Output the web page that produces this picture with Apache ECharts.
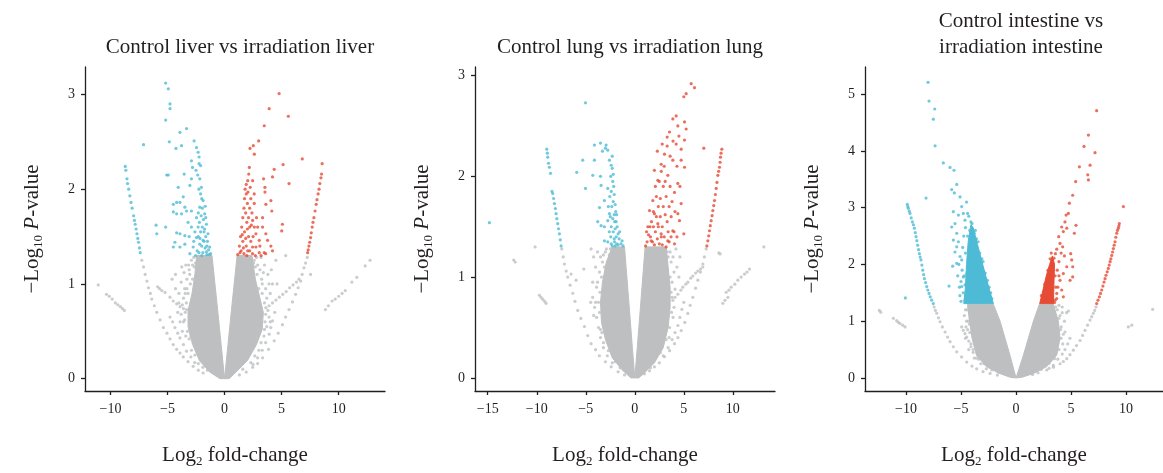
<!DOCTYPE html>
<html>
<head>
<meta charset="utf-8">
<script src="https://cdn.jsdelivr.net/npm/echarts@6/dist/echarts.min.js"></script>
<style>html,body{margin:0;padding:0;background:#fff}#c{width:1163px;height:473px}</style>
</head>
<body>
<div id="c"></div>
<script>
// ---------- DATA ----------
const titles = ['Control liver vs irradiation liver', 'Control lung vs irradiation lung', 'Control intestine vs\nirradiation intestine'];
const xTicksLiver = [-10, -5, 0, 5, 10];
const xTicksLung = [-15, -10, -5, 0, 5, 10];
const xTicksIntestine = [-10, -5, 0, 5, 10];
const yTicksLiver = [0, 1, 2, 3];
const yTicksLung = [0, 1, 2, 3];
const yTicksIntestine = [0, 1, 2, 3, 4, 5];

// dense, non-significant cores (outline of the packed grey area)
const liverCoreLeft = [[0,0],[-0.3,0.36],[-0.6,0.72],[-1.1,1.3],[-2.45,1.3],[-2.6,1.1],[-2.85,0.9],[-3.2,0.72],[-3.2,0.55],[-2.8,0.36],[-2.2,0.19],[-1.3,0.07],[-0.4,0.0]];
const liverCoreRight = [[0,0],[0.3,0.36],[0.6,0.72],[1.1,1.3],[2.4,1.3],[2.7,1.05],[3.1,0.85],[3.4,0.7],[3.3,0.52],[2.8,0.36],[2.0,0.19],[1.0,0.07],[0.4,0]];
const liverGray = [[-7.25,1.25],[-7.1,1.18],[-6.96,1.10],[-6.8,1.03],[-6.67,0.96],[-6.5,0.9],[-6.38,0.84],[-6.15,0.77],[-5.94,0.70],[-5.65,0.62],[-5.36,0.54],[-5.05,0.48],[-4.78,0.42],[-4.5,0.36],[-4.2,0.31],[-3.9,0.27],[-3.62,0.23],[-3.2,0.18],[-2.75,0.13],[-2.3,0.09],[-1.88,0.06],
[-4.78,0.65],[-4.55,0.6],[-4.35,0.54],[-4.1,0.48],[-3.91,0.43],[-3.6,0.36],[-3.33,0.29],[-2.95,0.23],[-2.61,0.17],
[-5.86,0.97],[-5.7,0.95],[-5.5,0.93],[-5.22,0.91],[-4.78,0.86],[-4.5,0.82],[-4.2,0.79],[-3.9,0.76],[-3.6,0.74],[-3.33,0.73],
[-11.07,0.99],[-10.35,0.89],[-10.1,0.87],[-9.85,0.84],[-9.57,0.80],[-9.35,0.78],[-9.13,0.76],[-8.95,0.74],[-8.78,0.72],
[7.25,1.28],[7.1,1.22],[6.96,1.17],[6.8,1.1],[6.67,1.03],[6.45,0.96],[6.23,0.89],[5.95,0.81],[5.65,0.73],[5.35,0.65],[5.07,0.57],[4.7,0.48],[4.35,0.40],[3.85,0.31],[3.33,0.22],[2.9,0.16],[2.46,0.12],[1.9,0.07],[1.3,0.04],
[4.2,0.61],[4.05,0.54],[3.91,0.47],[3.6,0.38],[3.3,0.3],[2.9,0.22],[2.5,0.15],
[3.62,0.75],[3.9,0.77],[4.2,0.8],[4.5,0.83],[4.8,0.86],[5.1,0.89],[5.4,0.92],[5.7,0.96],[6.0,0.99],[6.3,1.02],[6.52,1.05],
[12.75,1.25],[12.32,1.19],[11.59,1.07],[11.16,1.02],[10.58,0.93],[10.3,0.9],[10.0,0.87],[9.7,0.84],[9.42,0.82],[9.1,0.77],[8.84,0.73],[7.54,1.10],[5.36,1.30],[4.2,1.0],
[-2.9,1.25],[-3.1,1.15],[-3.4,1.2],[-4.3,1.1],[-4.6,1.05],[-3.8,1.02],[-3.5,0.95],[-4.0,0.9],[-3.3,1.05],[-2.8,1.2],[-3.6,0.85],[-3.9,0.6],[-3.7,0.5],[-3.4,0.45],[-4.1,0.7],[-2.7,1.28],[-3.0,1.0],[-3.2,0.9],
[2.6,1.25],[2.9,1.2],[3.1,1.15],[3.5,1.2],[3.8,1.1],[4.1,1.15],[4.5,1.25],[3.3,1.0],[3.6,0.95],[4.0,0.9],[3.9,0.65],[3.7,0.55],[4.4,0.7],[4.6,1.0],[2.8,1.28],[3.2,1.28],
[-3.35,0.8],[-3.45,0.7],[-3.5,0.62],[-3.3,0.95],[-3.05,1.1],[-2.8,1.05],[-2.65,1.18],[-3.25,0.5],[-3.1,0.42],[-2.9,0.3],[-2.6,0.25],[-2.3,0.16],[-1.9,0.12],[-1.5,0.09],[-3.7,0.78],[-3.8,0.68],[-4.0,0.8],[-4.3,0.95],[-3.55,1.12],[-3.75,1.18],[-2.55,1.22],[-3.0,0.58],[-2.95,0.45],[-3.45,0.9],[-3.15,1.2],[-3.6,0.6],
[3.5,0.8],[3.55,0.6],[3.45,0.45],[3.2,0.38],[3.0,0.3],[2.65,0.24],[2.3,0.17],[1.6,0.1],[2.85,1.1],[3.0,0.95],[2.7,1.18],[3.25,1.05],[3.7,0.85],[3.8,0.72],[4.0,0.6],[3.3,0.9],[3.4,1.12],[2.55,1.22],[3.6,0.68],[3.15,0.65],[3.5,0.52],[3.9,1.0]];
const liverDown = [[-5.16,3.12],[-4.93,3.06],[-4.78,2.9],[-4.78,2.85],[-5.16,2.73],[-4.84,2.5],[-7.1,2.47],[-3.91,2.6],[-3.33,2.64],[-3.77,2.46],[-4.26,2.43],[-2.67,2.51],[-2.46,2.44],[-2.32,2.39],[-2.23,2.34],[-2.23,2.27],
[-8.7,2.24],[-8.65,2.2],[-8.55,2.11],[-8.5,2.06],[-8.4,2.0],[-8.3,1.93],[-8.2,1.86],[-8.1,1.8],[-7.97,1.72],[-7.9,1.67],[-7.83,1.63],[-7.75,1.58],[-7.68,1.53],[-7.6,1.48],[-7.54,1.44],[-7.46,1.38],[-7.39,1.33],
[-6.0,1.62],[-5.94,1.53],[-5.16,1.6],[-5.07,2.15],[-4.93,2.15],[-4.06,2.02],[-3.54,2.16],[-3.04,2.04],[-2.9,2.11],[-2.81,2.23],[-2.9,2.3],[-2.17,2.11],[-2.03,2.02],[-4.49,1.84],[-4.2,1.86],[-3.91,1.86],[-3.62,1.92],[-3.48,1.81],[-4.49,1.76],[-4.2,1.74],[-3.77,1.74],[-3.33,1.77],[-2.9,1.77],[-4.2,1.54],[-3.91,1.53],[-3.48,1.51],[-4.35,1.44],[-3.48,1.42],[-4.49,1.39],[-3.91,1.39],[-3.04,1.32],[-2.75,1.39],[-2.46,1.49],[-2.32,1.6],[-2.46,1.7],[-2.17,1.81],[-1.88,1.88],[-1.74,1.74],[-1.59,1.63],[-1.45,1.53],[-1.3,1.39],[-1.22,1.32],[-1.88,1.46],[-2.17,1.42],[-1.59,1.34],
[-2.1,1.95],[-2.0,1.9],[-1.95,1.8],[-2.05,1.72],[-1.85,1.68],[-1.95,1.6],[-2.1,1.55],[-1.75,1.58],[-1.65,1.5],[-1.8,1.45],[-2.0,1.4],[-1.5,1.45],[-1.4,1.36],[-1.7,1.38],[-1.9,1.33],[-2.25,1.33],[-2.0,1.3],[-1.55,1.31],[-1.35,1.31],[-2.3,1.5],[-2.2,1.65],[-2.3,1.75],[-2.4,1.35],[-1.7,1.82],[-2.25,2.0],[-2.35,2.15],[-2.5,2.2],[-2.1,2.25],[-1.65,1.7],[-1.8,1.55],[-1.55,1.4],[-2.15,1.48],[-2.6,1.55],[-2.7,1.45],[-2.55,1.3],[-2.9,1.6],[-3.1,1.5],[-3.2,1.65]];
const liverUp = [[4.78,3.01],[3.91,2.85],[5.59,2.77],[3.48,2.67],[2.99,2.51],[2.52,2.46],[2.61,2.37],[2.23,2.43],[6.81,2.32],[5.13,2.26],[4.35,2.21],[5.65,2.06],[4.2,2.13],[3.54,2.02],[3.42,2.11],[2.17,2.23],[2.12,2.16],[2.03,2.09],[2.46,2.09],
[8.55,2.27],[8.5,2.16],[8.45,2.12],[8.35,2.06],[8.28,2.0],[8.2,1.95],[8.1,1.89],[8.03,1.84],[7.93,1.77],[7.83,1.7],[7.75,1.65],[7.68,1.6],[7.6,1.54],[7.54,1.49],[7.46,1.44],[7.39,1.4],[7.33,1.36],[7.28,1.33],
[3.54,1.97],[3.62,1.84],[4.06,1.88],[4.14,1.77],[5.07,1.63],[5.01,1.56],[3.33,1.7],[3.33,1.6],[3.62,1.53],[3.77,1.46],[4.06,1.4],[4.2,1.35],[3.48,1.33],[2.46,1.67],[2.61,1.6],[2.75,1.53],[3.04,1.46],[2.46,1.39],[2.75,1.39],[3.04,1.33],[2.03,1.35],
[1.15,1.31],[1.3,1.4],[1.4,1.5],[1.5,1.6],[1.6,1.7],[1.7,1.8],[1.75,1.9],[1.8,2.0],[1.9,1.95],[2.0,1.85],[1.85,1.75],[1.95,1.65],[1.75,1.55],[1.6,1.45],[1.45,1.35],[1.7,1.32],[1.9,1.4],[2.1,1.5],[2.2,1.6],[2.1,1.7],[2.2,1.8],[2.3,1.9],[2.4,1.75],[2.3,1.45],[2.2,1.35],[1.95,1.3],[2.5,1.5],[2.6,1.85],[1.65,1.38],[2.0,1.58],[1.85,1.48],[2.35,1.62],[2.6,1.95],[2.8,1.7],[2.9,1.6],[3.1,1.4],[1.55,1.52],[1.35,1.33],[2.45,1.32],[2.7,1.3],[3.2,1.3],[3.6,1.32],[2.05,1.97],[2.25,2.02],[1.9,2.05]];

const lungCoreLeft = [[0,0],[-0.25,0.3],[-0.54,0.67],[-1.05,1.3],[-2.3,1.3],[-2.9,1.15],[-3.3,0.95],[-3.5,0.75],[-3.4,0.55],[-3.0,0.38],[-2.3,0.2],[-1.3,0.08],[-0.4,0.0]];
const lungCoreRight = [[0,0],[0.25,0.3],[0.55,0.67],[1.05,1.3],[3.2,1.3],[3.4,1.1],[3.6,0.9],[3.6,0.7],[3.4,0.5],[2.9,0.3],[2.0,0.15],[1.0,0.05],[0.4,0]];
const lungGray = [[-7.45,1.28],[-7.3,1.2],[-7.18,1.13],[-7.0,1.06],[-6.84,1.0],[-6.6,0.92],[-6.33,0.84],[-6.1,0.76],[-5.82,0.67],[-5.5,0.59],[-5.14,0.51],[-4.8,0.42],[-4.46,0.34],[-4.0,0.28],[-3.61,0.22],[-3.0,0.16],[-2.41,0.11],[-1.7,0.06],[-1.05,0.03],
[-4.3,0.8],[-4.1,0.7],[-3.9,0.6],[-3.7,0.5],[-3.5,0.4],[-3.2,0.3],[-2.8,0.22],[-2.3,0.15],
[-10.17,1.3],[-12.35,1.17],[-12.2,1.15],[-9.73,0.82],[-9.56,0.8],[-9.39,0.78],[-9.2,0.76],[-9.05,0.74],
[-4.46,1.28],[-5.2,1.08],[-6.5,1.03],[-5.99,0.97],[-4.2,1.2],[-4.0,1.1],[-3.8,1.25],[-3.5,1.2],[-4.3,0.95],[-3.9,0.9],[-4.5,0.75],[-4.2,0.62],[-2.9,1.28],[-3.2,1.22],[-3.6,1.05],
[7.28,1.28],[7.1,1.2],[6.94,1.13],[6.7,1.05],[6.43,0.97],[6.2,0.89],[5.92,0.8],[5.65,0.72],[5.41,0.64],[5.1,0.55],[4.73,0.47],[4.4,0.4],[4.05,0.34],[3.55,0.27],[3.03,0.21],[2.5,0.15],[2.0,0.11],[1.5,0.07],[0.99,0.04],
[5.0,0.75],[4.8,0.68],[4.6,0.6],[4.4,0.52],[4.1,0.45],[3.8,0.38],[3.4,0.3],[2.9,0.22],
[3.88,0.77],[4.1,0.8],[4.39,0.83],[4.7,0.87],[4.9,0.9],[5.2,0.93],[5.41,0.95],[5.7,0.99],[5.92,1.01],[6.2,1.04],[6.43,1.06],[6.7,1.08],[6.94,1.1],
[13.16,1.3],[8.57,1.24],[8.7,1.23],[11.7,1.08],[11.45,1.05],[11.19,1.03],[10.85,1.0],[10.51,0.97],[10.2,0.93],[9.83,0.9],[9.6,0.87],[9.32,0.85],[9.49,0.8],[9.2,0.77],[8.98,0.74],
[3.6,1.25],[3.9,1.2],[4.2,1.28],[4.0,1.05],[4.3,1.1],[3.8,0.95],[4.5,1.0],[4.1,0.88],[3.7,1.15],[4.6,1.2],
[-3.55,0.85],[-3.6,0.65],[-3.5,0.48],[-3.2,0.35],[-2.7,0.27],[-2.0,0.16],[-1.5,0.1],[-3.1,1.1],[-3.4,1.0],[-2.6,1.22],[-3.7,0.75],[-3.8,0.95],[-4.0,0.75],[-3.3,1.15],[-2.5,1.28],[-3.0,1.25],[-3.35,0.45],
[3.4,1.2],[3.6,1.0],[3.7,0.85],[3.75,0.65],[3.55,0.5],[3.2,0.38],[2.6,0.25],[1.6,0.1],[3.3,1.25],[3.8,0.8],[3.9,0.6],[4.0,0.7],[3.5,0.4]];
const lungDown = [[-5.03,2.73],[-14.83,1.54],
[-8.98,2.27],[-8.92,2.23],[-8.88,2.19],[-8.8,2.13],[-8.71,2.09],[-8.6,2.03],[-8.45,1.85],[-8.37,1.83],[-8.28,1.78],[-8.2,1.73],[-8.1,1.68],[-8.03,1.63],[-7.95,1.58],[-7.86,1.53],[-7.78,1.48],[-7.69,1.43],[-7.6,1.37],[-7.52,1.31],
[-5.92,2.04],[-5.31,2.16],[-5.03,1.88],[-4.12,2.31],[-3.5,2.33],[-2.93,2.31],[-2.76,2.26],[-4.12,2.16],[-4.29,2.01],[-3.5,2.0],[-3.44,1.91],[-2.76,1.88],[-2.59,2.16],[-2.41,2.11],[-3.6,1.69],[-3.1,1.76],[-3.78,1.55],[-3.44,1.51],[-3.1,1.5],[-2.76,1.56],[-2.59,1.63],[-3.1,1.36],[-2.76,1.35],[-2.41,1.33],[-2.07,1.35],[-3.3,2.25],[-3.0,2.28],
[-2.3,2.08],[-2.2,2.02],[-2.25,1.95],[-2.15,1.9],[-2.1,1.82],[-2.2,1.75],[-2.0,1.72],[-1.95,1.65],[-2.1,1.62],[-2.25,1.58],[-1.9,1.55],[-1.8,1.5],[-2.0,1.48],[-2.2,1.45],[-1.7,1.43],[-1.6,1.38],[-1.9,1.4],[-2.1,1.38],[-1.4,1.33],[-1.2,1.31],[-1.7,1.32],[-2.0,1.31],[-2.3,1.31],[-2.45,1.4],[-2.4,1.5],[-2.5,1.6],[-2.35,1.7],[-2.4,1.85],[-2.45,2.0],[-2.3,2.2],[-1.85,1.62],[-2.05,1.55],[-1.55,1.45],[-1.3,1.36],[-1.85,1.33],[-2.6,1.45],[-2.7,1.7],[-2.55,1.8]];
const lungUp = [[5.75,2.92],[6.09,2.88],[5.0,2.79],[5.24,2.82],[4.22,2.6],[3.88,2.57],[4.39,2.5],[5.07,2.54],[5.24,2.47],[3.54,2.44],[3.3,2.39],[7.04,2.28],[5.07,2.36],[4.73,2.27],[4.22,2.32],[4.73,2.16],[5.07,2.09],[3.88,2.16],[3.03,2.22],[2.69,2.12],[2.0,2.06],[2.35,1.96],[3.37,2.01],[4.39,1.93],[4.05,1.84],[4.73,1.73],[4.39,1.63],[4.56,1.56],[3.71,1.6],[3.88,1.46],[5.0,1.43],[3.37,1.36],[4.05,1.33],[2.69,1.43],[2.35,1.53],[2.0,1.63],[1.84,1.76],[1.5,1.66],[1.33,1.5],[1.67,1.36],
[8.88,2.27],[8.8,2.23],[8.74,2.19],[8.7,2.14],[8.64,2.09],[8.55,2.05],[8.47,2.01],[8.38,1.94],[8.3,1.88],[8.22,1.82],[8.13,1.76],[8.05,1.71],[7.96,1.66],[7.88,1.61],[7.79,1.56],[7.7,1.51],[7.62,1.46],[7.54,1.41],[7.45,1.36],[7.35,1.31],
[1.1,1.31],[1.25,1.35],[1.4,1.42],[1.2,1.45],[1.55,1.5],[1.7,1.55],[1.9,1.5],[2.1,1.45],[2.3,1.38],[2.5,1.33],[2.8,1.32],[3.0,1.4],[2.8,1.5],[2.6,1.6],[2.4,1.7],[2.2,1.8],[2.6,1.78],[2.9,1.7],[3.1,1.62],[3.2,1.8],[2.9,1.9],[2.5,1.95],[2.7,2.05],[3.0,2.1],[3.3,1.55],[3.5,1.7],[3.6,1.9],[3.2,1.3],[1.8,1.35],[2.0,1.32],[1.6,1.4],[2.2,1.6],[1.9,1.65],[2.4,1.5],[2.7,1.4],[3.4,1.45],[3.7,1.4],[3.5,1.35],[3.8,1.75],[4.1,1.65],[2.1,1.9],[3.3,2.3],[3.9,2.35],[4.5,2.4],[4.3,2.1],[4.6,1.9],[3.6,2.2],[2.3,2.25],[2.8,2.32],[3.1,1.95],[4.0,1.45],[4.3,1.4]];

const intestineCoreLeft = [[0,0],[-0.55,0.4],[-1.0,0.7],[-1.45,1.0],[-2.06,1.3],[-4.4,1.3],[-4.3,1.1],[-4.15,0.9],[-4.0,0.7],[-3.6,0.4],[-2.7,0.2],[-1.5,0.08],[-0.5,0.01]];
const intestineCoreRight = [[0,0],[0.67,0.4],[1.12,0.7],[1.58,1.0],[2.12,1.3],[3.39,1.3],[3.85,1.0],[4.0,0.7],[3.7,0.4],[2.79,0.2],[1.6,0.08],[0.5,0.01]];
const intestineDownCore = [[-4.75,1.31],[-4.6,1.6],[-4.5,2.0],[-4.35,2.4],[-4.1,2.7],[-3.9,2.65],[-3.5,2.35],[-3.0,1.98],[-2.55,1.65],[-2.06,1.31]];
const intestineUpCore = [[2.15,1.31],[2.45,1.55],[2.75,1.8],[3.05,2.0],[3.3,2.15],[3.5,2.0],[3.45,1.7],[3.4,1.31]];
const intestineGray = [[-12.42,1.19],[-12.3,1.16],[-11.15,1.05],[-10.85,1.01],[-10.7,0.98],[-10.55,0.96],[-10.3,0.93],[-10.09,0.9],
[-4.94,0.9],[-4.8,0.84],[-4.64,0.78],[-4.48,0.72],
[-7.45,1.25],[-7.33,1.19],[-7.21,1.14],[-7.05,1.06],[-6.91,0.99],[-6.7,0.9],[-6.45,0.81],[-6.22,0.72],[-6.0,0.64],[-5.7,0.55],[-5.39,0.46],[-4.95,0.37],[-4.48,0.28],[-4.0,0.21],[-3.58,0.16],[-3.0,0.11],[-2.36,0.08],[-1.7,0.05],
[-4.3,0.65],[-4.1,0.55],[-3.9,0.45],[-3.6,0.35],[-3.2,0.25],[-2.7,0.16],
[7.27,1.25],[7.15,1.19],[7.03,1.14],[6.88,1.08],[6.73,1.02],[6.5,0.93],[6.27,0.84],[6.05,0.75],[5.82,0.66],[5.5,0.57],[5.21,0.49],[4.9,0.41],[4.61,0.34],[4.3,0.29],[4.0,0.25],[3.4,0.19],[2.79,0.14],[2.0,0.09],[1.5,0.06],
[4.9,0.7],[4.7,0.6],[4.45,0.5],[4.2,0.42],[3.8,0.33],[3.39,0.22],[3.0,0.17],
[12.42,1.21],[10.52,0.93],[10.21,0.9],
[4.76,1.18],[4.6,1.15],[4.45,0.81],[4.3,0.77],[4.2,1.25],[4.0,1.1],[4.4,1.0],[3.9,1.28],[4.1,0.9],
[-4.6,1.2],[-4.7,1.1],[-4.5,1.0],[-4.4,0.85],[-4.3,1.25],[-4.25,0.95],
[-4.45,1.2],[-4.35,1.0],[-4.2,0.8],[-4.1,0.6],[-3.9,0.5],[-3.4,0.33],[-2.9,0.25],[-2.2,0.14],[-1.6,0.1],[-4.55,0.9],[-4.6,0.7],[-4.3,0.5],[-3.8,0.35],
[3.6,1.25],[3.9,1.05],[4.05,0.85],[4.1,0.7],[3.9,0.5],[3.5,0.34],[3.0,0.26],[2.3,0.15],[4.2,1.15],[4.25,0.6],[3.75,1.2]];
const intestineDown = [[-8.0,5.21],[-7.91,4.88],[-7.39,4.74],[-7.52,4.56],[-7.36,4.09],[-6.61,3.79],[-6.0,3.71],[-5.64,3.66],[-8.18,3.17],[-5.39,3.41],[-5.85,3.32],[-5.61,3.26],[-5.09,3.19],[-5.76,1.97],[-6.09,1.62],[-10.06,1.41],
[-9.88,3.06],[-9.84,3.02],[-9.79,2.99],[-9.7,2.94],[-9.64,2.9],[-9.53,2.82],[-9.42,2.75],[-9.33,2.7],[-9.24,2.64],[-9.16,2.56],[-9.09,2.49],[-9.02,2.42],[-8.94,2.34],[-8.86,2.26],[-8.79,2.19],[-8.72,2.13],[-8.64,2.08],[-8.56,1.99],[-8.48,1.9],[-8.4,1.82],[-8.33,1.75],[-8.22,1.68],[-8.12,1.61],[-8.02,1.55],[-7.91,1.49],[-7.8,1.43],[-7.67,1.37],[-7.52,1.31],
[-5.85,2.66],[-5.55,2.72],[-5.39,2.55],[-5.7,2.43],[-5.24,2.4],[-5.39,2.31],[-5.55,2.22],[-5.09,2.14],[-5.39,2.02],[-4.94,2.08],[-4.79,1.78],[-4.48,1.84],[-4.64,1.64],[-4.94,1.61],[-4.48,1.49],[-4.64,1.37],[-4.94,3.02],[-4.79,2.9],[-4.64,2.78],[-5.24,2.87],[-5.7,2.93],[-5.1,1.45],[-5.0,1.35],[-4.3,2.85],[-4.1,2.75],[-4.5,3.1],
[-4.4,2.5],[-4.2,2.6],[-4.0,2.72],[-3.8,2.55],[-3.6,2.45],[-3.3,2.2],[-3.1,2.1],[-2.8,1.85],[-2.6,1.72],[-2.3,1.5],[-4.8,1.5],[-4.7,1.8],[-4.6,2.2],[-4.9,1.9],[-5.0,1.7],[-4.4,2.9],[-3.9,2.3],[-3.2,1.9],[-2.7,1.55],
[-5.2,2.0],[-5.3,1.8],[-5.15,1.6],[-4.85,2.3],[-4.75,2.5],[-4.6,2.65],[-3.7,2.6],[-3.45,2.4],[-3.0,2.05],[-2.45,1.6],[-2.2,1.4],[-2.9,1.7]];
const intestineUp = [[7.33,4.71],[6.58,4.28],[6.18,4.08],[6.73,3.75],[7.18,3.97],[5.76,3.72],[6.52,3.58],[6.58,3.49],[5.42,3.46],[5.15,3.22],[9.76,3.02],[4.85,3.08],[4.76,2.9],[4.55,2.87],[4.45,2.75],[5.45,2.69],[4.15,2.66],[4.3,2.58],[4.61,2.64],[5.3,2.55],[3.88,2.49],[4.0,2.37],[4.24,2.31],[3.58,2.19],[3.45,2.11],[4.97,2.19],[5.06,2.08],[5.15,1.96],[4.91,1.72],[5.15,1.78],[4.61,1.96],[4.3,1.84],[4.0,1.72],[4.15,1.55],[3.7,1.49],[4.3,1.43],[3.55,1.37],[3.9,2.05],[3.75,1.9],[3.7,2.27],[4.4,2.15],[4.1,2.2],
[9.39,2.72],[9.35,2.68],[9.3,2.64],[9.22,2.6],[9.15,2.55],[9.07,2.48],[9.0,2.4],[8.92,2.34],[8.85,2.28],[8.78,2.22],[8.7,2.16],[8.62,2.1],[8.55,2.05],[8.47,1.99],[8.39,1.93],[8.29,1.87],[8.18,1.81],[8.09,1.75],[8.0,1.69],[7.9,1.62],[7.79,1.55],[7.68,1.49],[7.58,1.43],[7.45,1.37],[7.33,1.31],
[3.1,2.1],[3.2,2.2],[2.9,1.9],[3.55,1.8],[3.6,1.6],[3.7,1.4],[3.5,1.33],[2.6,1.65],[2.3,1.45],[3.35,2.0],[3.8,1.6],[3.9,1.8]];

// ---------- CHART ----------
const FONT = "'Liberation Serif','DejaVu Serif',serif";
const INK = '#231f20';
const GRAY = '#bdbfc0', CYAN = '#4dbbd5', RED = '#e64b35';
const rich = {
  n: {fontFamily: FONT, fontSize: 21, lineHeight: 26, color: INK},
  i: {fontFamily: FONT, fontSize: 21, lineHeight: 26, color: INK, fontStyle: 'italic'},
  s: {fontFamily: FONT, fontSize: 13, lineHeight: 13, color: INK, verticalAlign: 'bottom'}
};
const fmt = v => String(v).replace('-', '\u2212');

const panels = [
  {x: [-12.23, 14.06], y: [-0.13, 3.29], xt: xTicksLiver, yt: yTicksLiver, cl: liverCoreLeft, cr: liverCoreRight, g: liverGray, d: liverDown, u: liverUp, dc: null, uc: null},
  {x: [-16.3, 14.3], y: [-0.13, 3.085], xt: xTicksLung, yt: yTicksLung, cl: lungCoreLeft, cr: lungCoreRight, g: lungGray, d: lungDown, u: lungUp, dc: null, uc: null},
  {x: [-13.73, 13.36], y: [-0.23, 5.48], xt: xTicksIntestine, yt: yTicksIntestine, cl: intestineCoreLeft, cr: intestineCoreRight, g: intestineGray, d: intestineDown, u: intestineUp, dc: intestineDownCore, uc: intestineUpCore}
];
const gridLeft = [85, 475, 865];
const gridW = [300, 300, 298];
const titleCenter = [235, 625, 1016];

const option = {
  animation: false,
  backgroundColor: '#fff',
  title: titles.map((t, i) => ({
    text: t, left: titleCenter[i], textAlign: 'center', top: i === 2 ? 3 : 29,
    textStyle: {fontFamily: FONT, fontSize: 21, fontWeight: 'normal', color: INK, lineHeight: 26}
  })),
  grid: panels.map((p, i) => ({left: gridLeft[i], top: 67, width: gridW[i], height: 324, containLabel: false, outerBoundsMode: 'none'})),
  xAxis: panels.map((p, i) => ({
    type: 'value', gridIndex: i, min: p.x[0], max: p.x[1],
    name: '{n|Log}{s|2}{n| fold-change}', nameLocation: 'middle', nameGap: 51,
    nameTextStyle: {rich},
    axisLine: {show: true, onZero: false, lineStyle: {color: INK, width: 1.3}},
    axisTick: {show: true, length: 4, customValues: p.xt, lineStyle: {color: INK, width: 1.3}},
    axisLabel: {customValues: p.xt, formatter: fmt, fontFamily: FONT, fontSize: 14, color: INK, margin: 11},
    splitLine: {show: false}
  })),
  yAxis: panels.map((p, i) => ({
    type: 'value', gridIndex: i, min: p.y[0], max: p.y[1],
    name: '{n|\u2212Log}{s|10}{i| P}{n|-value}', nameLocation: 'middle', nameGap: 40, nameRotate: 90,
    nameTextStyle: {rich},
    axisLine: {show: true, onZero: false, lineStyle: {color: INK, width: 1.3}},
    axisTick: {show: true, length: 4, customValues: p.yt, lineStyle: {color: INK, width: 1.3}},
    axisLabel: {customValues: p.yt, formatter: fmt, fontFamily: FONT, fontSize: 14, color: INK, margin: 10},
    splitLine: {show: false}
  })),
  series: []
};

function polySeries(i, pts, color) {
  return {
    type: 'custom', xAxisIndex: i, yAxisIndex: i, silent: true, clip: true,
    data: [pts[0]],
    renderItem: (params, api) => ({
      type: 'polygon',
      shape: {points: pts.map(p => api.coord(p))},
      style: {fill: color, stroke: color, lineWidth: 1}
    })
  };
}
function dotSeries(i, pts, color) {
  return {type: 'scatter', xAxisIndex: i, yAxisIndex: i, data: pts, symbol: 'circle', symbolSize: 3.2,
    itemStyle: {color: color}, silent: true};
}
panels.forEach((p, i) => {
  option.series.push(polySeries(i, p.cl, GRAY));
  option.series.push(polySeries(i, p.cr, GRAY));
  option.series.push(dotSeries(i, p.g, GRAY));
  if (p.dc) option.series.push(polySeries(i, p.dc, CYAN));
  if (p.uc) option.series.push(polySeries(i, p.uc, RED));
  option.series.push(dotSeries(i, p.d, CYAN));
  option.series.push(dotSeries(i, p.u, RED));
});

const chart = echarts.init(document.getElementById('c'), null, {renderer: 'canvas'});
chart.setOption(option);
</script>
</body>
</html>
